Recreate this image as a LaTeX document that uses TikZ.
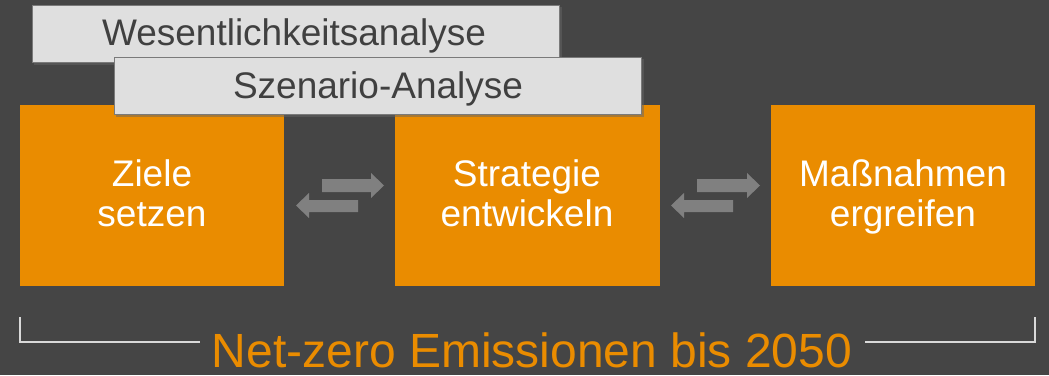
\documentclass[tikz,border=0pt]{standalone}
\usepackage{fontspec}
\setmainfont{Liberation Sans}
\definecolor{bg}{HTML}{454545}
\definecolor{org}{HTML}{EA8C00}
\definecolor{lgray}{HTML}{DFDFDF}
\definecolor{lborder}{HTML}{7A7A7A}
\definecolor{darktxt}{HTML}{404040}
\definecolor{arrowgray}{HTML}{808080}
\definecolor{brack}{HTML}{D9D9D9}
\tikzset{
  labelbox/.style={fill=lgray, draw=lborder, line width=1pt},
  orangebox/.style={fill=org, draw=none},
  boxtext/.style={text=white, font=\fontsize{37}{40}\selectfont, anchor=base, inner sep=0pt},
  graytext/.style={text=darktxt, font=\fontsize{37}{42}\selectfont, anchor=base, inner sep=0pt},
  flowarrow/.style={fill=arrowgray, draw=none},
  bracketline/.style={draw=brack, line width=2.2pt},
}
\begin{document}
\begin{tikzpicture}[x=1pt,y=-1pt]
\fill[bg] (0,0) rectangle (1049,375);
\useasboundingbox (0,0) rectangle (1049,375);
% orange boxes
\fill[orangebox] (20,105) rectangle (284,286);
\fill[orangebox] (395,105) rectangle (660,286);
\fill[orangebox] (771,105) rectangle (1035,286);
\node[boxtext] (z1) at (152,186) {Ziele};
\node[boxtext] (z2) at (152,226) {setzen};
\node[boxtext] (s1) at (527,186) {Strategie};
\node[boxtext] (s2) at (527,226) {entwickeln};
\node[boxtext] (m1) at (903,186) {Maßnahmen};
\node[boxtext] (m2) at (903,226) {ergreifen};
% label boxes
\fill[black!60, opacity=0.5] (34,7) rectangle (562,65);
\draw[labelbox] (32,5) rectangle (559,62);
\node[graytext] (w) at (294,45) {Wesentlichkeitsanalyse};
\fill[black!60, opacity=0.5] (116,59) rectangle (644,117);
\draw[labelbox] (114,57) rectangle (641,114);
\node[graytext] (sa) at (378,98) {Szenario-Analyse};
% arrows
\fill[flowarrow] (322,179) -- (371,179) -- (371,173) -- (384,185.5) -- (371,198) -- (371,192) -- (322,192) -- cycle;
\fill[flowarrow] (358,200) -- (309,200) -- (309,193) -- (296,205.5) -- (309,218) -- (309,212) -- (358,212) -- cycle;
\fill[flowarrow] (697,179) -- (747,179) -- (747,173) -- (760,185.5) -- (747,198) -- (747,192) -- (697,192) -- cycle;
\fill[flowarrow] (733,200) -- (684,200) -- (684,193) -- (671,205.5) -- (684,218) -- (684,212) -- (733,212) -- cycle;
% bracket
\coordinate (bl1) at (20,317);
\coordinate (bl2) at (20,342);
\coordinate (bl3) at (200,342);
\coordinate (br1) at (1035,317);
\coordinate (br2) at (1035,342);
\coordinate (br3) at (865,342);
\draw[bracketline] (bl1) -- (bl2) -- (bl3);
\draw[bracketline] (br1) -- (br2) -- (br3);
\node[text=org, font=\fontsize{48}{56}\selectfont, anchor=base, inner sep=0pt, text depth=0pt] (nz) at (532,367) {Net-zero Emissionen bis 2050};
\end{tikzpicture}
\end{document}
